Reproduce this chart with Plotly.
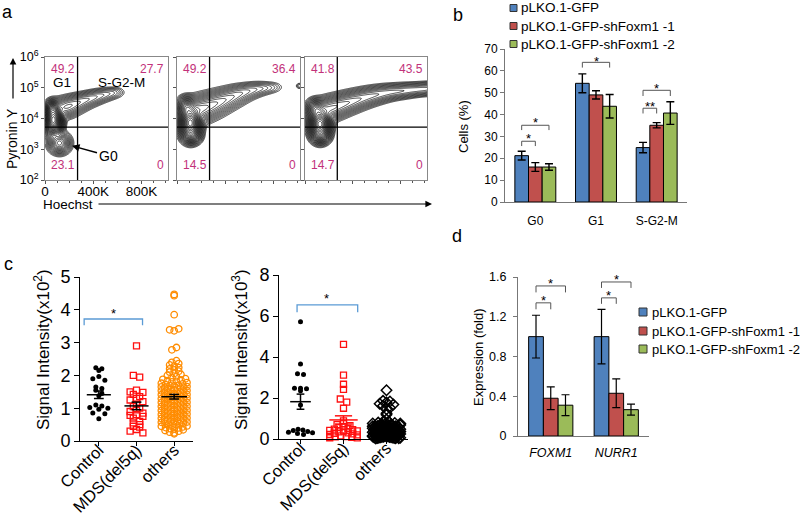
import numpy as np
import plotly.graph_objects as go

W, H = 800, 518
FONT = "Liberation Sans, Arial, sans-serif"

def X(px):
    return px / W

def Y(py):
    return 1 - py / H

def dx(l, r):
    return [l / W, r / W]

def dy(t, b):
    return [1 - b / H, 1 - t / H]

# ---------------- panel a : flow cytometry contours ----------------
a_quadrant_text = [["49.2", "27.7", "23.1", "0"],
                   ["49.2", "36.4", "14.5", "0"],
                   ["41.8", "43.5", "14.7", "0"]]
a_gate_x = 270      # Hoechst gate (K)
a_gate_y = 3.72     # Pyronin Y gate (log10)
a_x_ticks = [0, 400, 800]
a_x_ticktext = ["0", "400K", "800K"]
a_y_ticks = [2, 3, 4, 5, 6]
a_y_ticktext = ["10<sup>2</sup>", "10<sup>3</sup>", "10<sup>4</sup>", "10<sup>5</sup>", "10<sup>6</sup>"]

# population blobs: centre x (K), centre y (log10), spread x, spread y, weight
a1_cx = [70, 120, 60, 150, 200, 250, 300, 350, 400, 450, 500, 550, 585]
a1_cy = [3.95, 3.2, 4.3, 4.33, 4.4, 4.48, 4.55, 4.62, 4.68, 4.74, 4.79, 4.83, 4.86]
a1_sx = [32, 40, 25, 50, 50, 50, 50, 50, 50, 50, 50, 45, 40]
a1_sy = [0.21, 0.15, 0.12, 0.15, 0.14, 0.13, 0.12, 0.11, 0.105, 0.1, 0.095, 0.09, 0.085]
a1_w = [1.0, 0.17, 0.3, 0.06, 0.05, 0.042, 0.035, 0.03, 0.025, 0.02, 0.015, 0.01, 0.006]

a2_cx = [110, 80, 120, 150, 200, 250, 300, 350, 400, 450, 500, 550, 600, 650, 700, 750, 800, 1015]
a2_cy = [3.85, 4.35, 3.45, 4.25, 4.32, 4.38, 4.45, 4.53, 4.61, 4.69, 4.77, 4.84, 4.9, 4.95, 4.98,
         5.0, 5.02, 5.06]
a2_sx = [38, 35, 35, 50, 50, 50, 50, 50, 50, 50, 50, 50, 50, 50, 50, 50, 45, 15]
a2_sy = [0.22, 0.15, 0.12, 0.19, 0.19, 0.185, 0.18, 0.17, 0.16, 0.15, 0.14, 0.125, 0.115, 0.11,
         0.1, 0.095, 0.09, 0.05]
a2_w = [1.0, 0.3, 0.2, 0.09, 0.078, 0.066, 0.06, 0.054, 0.045, 0.039, 0.033, 0.027, 0.021, 0.016,
        0.012, 0.008, 0.004, 0.008]

a3_cx = [125, 90, 130, 170, 220, 270, 320, 370, 420, 470, 520, 570, 620, 670, 720, 770, 820, 870,
         920, 970, 1020, 1070]
a3_cy = [3.82, 4.3, 3.45, 4.28, 4.34, 4.4, 4.47, 4.53, 4.59, 4.65, 4.7, 4.75, 4.79, 4.83, 4.86,
         4.88, 4.9, 4.92, 4.94, 4.95, 4.97, 4.98]
a3_sx = [38, 35, 35] + [50] * 19
a3_sy = [0.21, 0.14, 0.12, 0.17, 0.165, 0.16, 0.155, 0.15, 0.145, 0.14, 0.135, 0.13, 0.125, 0.12,
         0.115, 0.11, 0.11, 0.105, 0.1, 0.1, 0.1, 0.1]
a3_w = [1.0, 0.25, 0.2, 0.085, 0.072, 0.066, 0.06, 0.054, 0.048, 0.042, 0.039, 0.036, 0.033, 0.03,
        0.028, 0.027, 0.025, 0.024, 0.023, 0.022, 0.022, 0.022]

# ---------------- panel b ----------------
b_cats = ["G0", "G1", "S-G2-M"]
b_gfp = [21.2, 54.3, 24.9]
b_gfp_err = [2.0, 4.3, 2.4]
b_sh1 = [16.0, 49.0, 35.1]
b_sh1_err = [2.0, 1.9, 1.2]
b_sh2 = [16.0, 43.8, 40.7]
b_sh2_err = [1.5, 5.4, 5.2]
# brackets: group, bar a, bar b, line y, end y, label, star y
b_sig = [(0, 0, 1, 27.8, 25.6, "*", 30.0),
         (0, 0, 2, 35.1, 32.9, "*", 37.6),
         (1, 0, 2, 63.9, 61.5, "*", 65.6),
         (2, 0, 1, 42.9, 40.5, "**", 44.8),
         (2, 0, 2, 51.1, 48.5, "*", 53.0)]

series_names = ["pLKO.1-GFP", "pLKO.1-GFP-shFoxm1 -1", "pLKO.1-GFP-shFoxm1 -2"]
series_colors = ["#4F81BD", "#C0504D", "#9BBB59"]

# ---------------- panel c ----------------
c_cats = ["Control", "MDS(del5q)", "others"]
c1_control = [2.23, 2.2, 2.15, 1.97, 1.9, 1.85, 1.65, 1.6, 1.55, 1.45, 1.38, 1.1, 1.07,
              1.02, 1.0, 0.97, 0.85, 0.83, 0.68]
c1_mds = [2.9, 2.0, 1.95, 1.55, 1.5, 1.48, 1.42, 1.35, 1.3, 1.25, 1.2, 1.12, 1.05, 1.0,
          0.95, 0.9, 0.85, 0.8, 0.78, 0.75, 0.7, 0.6, 0.55, 0.5, 0.45, 0.42, 0.35, 0.3, 0.25]
c1_others = [0.22, 0.25, 0.27, 0.3, 0.32, 0.34, 0.36, 0.38, 0.4, 0.41, 0.43, 0.45, 0.46, 0.48,
             0.5, 0.51, 0.53, 0.54, 0.55, 0.57, 0.58, 0.6, 0.61, 0.62, 0.64, 0.65, 0.66, 0.68,
             0.69, 0.7, 0.72, 0.73, 0.74, 0.76, 0.77, 0.78, 0.8, 0.81, 0.82, 0.84, 0.85, 0.86,
             0.88, 0.89, 0.9, 0.92, 0.93, 0.94, 0.96, 0.97, 0.98, 1.0, 1.01, 1.02, 1.04, 1.05,
             1.06, 1.08, 1.09, 1.1, 1.12, 1.13, 1.14, 1.16, 1.17, 1.18, 1.2, 1.21, 1.22, 1.24,
             1.25, 1.26, 1.28, 1.29, 1.3, 1.32, 1.33, 1.34, 1.36, 1.37, 1.38, 1.4, 1.41, 1.42,
             1.44, 1.45, 1.46, 1.48, 1.49, 1.5, 1.52, 1.53, 1.54, 1.56, 1.57, 1.58, 1.6, 1.61,
             1.62, 1.64, 1.65, 1.66, 1.68, 1.69, 1.7, 1.72, 1.74, 1.76, 1.78, 1.8, 1.82, 1.84,
             1.86, 1.88, 1.9, 1.93, 1.96, 2.0, 2.03, 2.06, 2.1, 2.13, 2.17, 2.2, 2.24, 2.28,
             2.32, 2.36, 2.4, 2.45, 2.78, 2.85, 3.36, 3.39, 3.42, 3.85, 4.43, 4.47]
c1_mean = [1.41, 1.07, 1.35]
c1_sem = [0.115, 0.115, 0.07]

c2_control = [5.72, 3.66, 3.18, 3.15, 2.48, 2.47, 2.45, 2.35, 1.66, 0.47, 0.44, 0.42, 0.36,
              0.33, 0.3, 0.27, 0.22]
c2_mds = [4.62, 3.12, 2.67, 2.42, 1.95, 1.8, 1.5, 0.88, 0.75, 0.7, 0.65, 0.6, 0.55, 0.5, 0.48,
          0.45, 0.42, 0.4, 0.38, 0.35, 0.3, 0.28, 0.25, 0.22, 0.2, 0.15, 0.12, 0.1, 0.08, 0.06, 0.05]
c2_others = [2.38, 1.86, 1.83, 1.78, 1.72, 1.68, 1.62, 1.52, 1.45, 1.25, 1.18, 0.95, 0.88, 0.82,
             0.8, 0.78, 0.76, 0.75, 0.72, 0.7, 0.7, 0.68, 0.66, 0.65, 0.63, 0.62, 0.6, 0.6, 0.58,
             0.57, 0.55, 0.55, 0.53, 0.52, 0.5, 0.5, 0.49, 0.48, 0.47, 0.46, 0.45, 0.45, 0.44,
             0.43, 0.42, 0.41, 0.4, 0.4, 0.39, 0.38, 0.37, 0.36, 0.35, 0.35, 0.34, 0.33, 0.32,
             0.31, 0.3, 0.3, 0.29, 0.28, 0.27, 0.26, 0.25, 0.25, 0.24, 0.23, 0.22, 0.21, 0.2,
             0.2, 0.19, 0.18, 0.17, 0.16, 0.15, 0.15, 0.14, 0.13, 0.12, 0.11, 0.1, 0.1, 0.09,
             0.08, 0.07, 0.06, 0.05, 0.05, 0.04, 0.03, 0.62, 0.58, 0.52, 0.44, 0.38, 0.33, 0.27,
             0.21, 0.16, 0.11, 0.07, 0.04, 0.68, 0.48, 0.36, 0.24, 0.12, 0.06]
c2_mean = [1.82, 0.93, 0.38]
c2_sem = [0.37, 0.2, 0.03]

# ---------------- panel d ----------------
d_genes = ["<i>FOXM1</i>", "<i>NURR1</i>"]
d_gfp = [1.0, 1.0]
d_gfp_err = [0.215, 0.275]
d_sh1 = [0.38, 0.43]
d_sh1_err = [0.115, 0.145]
d_sh2 = [0.31, 0.265]
d_sh2_err = [0.105, 0.055]
d_sig = [(0, 0, 1, 1.34, 1.275, "*", 1.39),
         (0, 0, 2, 1.51, 1.445, "*", 1.56),
         (1, 0, 1, 1.39, 1.33, "*", 1.435),
         (1, 0, 2, 1.55, 1.49, "*", 1.60)]

fig = go.Figure()
shapes = []
ann = []

# ---------- panel a contours ----------
gx = np.arange(0, 1021, 4.0)
gy = np.arange(2.0, 6.0001, 0.015)
GX, GY = np.meshgrid(gx, gy)

def dens(cx, cy, sx, sy, w):
    Z = np.zeros_like(GX)
    for a, b, s, t, k in zip(cx, cy, sx, sy, w):
        Z += k * np.exp(-0.5 * ((GX - a) / s) ** 2 - 0.5 * ((GY - b) / t) ** 2)
    Z = Z / Z.max()
    return Z ** 0.25

a_sets = [(a1_cx, a1_cy, a1_sx, a1_sy, a1_w),
          (a2_cx, a2_cy, a2_sx, a2_sy, a2_w),
          (a3_cx, a3_cy, a3_sx, a3_sy, a3_w)]
a_dom = [(45, 168), (177, 300), (305, 427)]
for i, params in enumerate(a_sets):
    sfx = "" if i == 0 else str(i + 1)
    fig.add_trace(go.Contour(
        x=gx, y=gy, z=dens(*params), xaxis="x" + sfx, yaxis="y" + sfx,
        contours=dict(start=0.21, end=0.98, size=0.032, coloring="lines"),
        colorscale=[[0, "black"], [1, "black"]], showscale=False,
        line=dict(width=0.75), hoverinfo="skip"))
    # gates
    shapes.append(dict(type="line", xref="x" + sfx, yref="y%s domain" % sfx,
                       x0=a_gate_x, x1=a_gate_x, y0=0, y1=1, line=dict(color="black", width=1.3)))
    shapes.append(dict(type="line", xref="x%s domain" % sfx, yref="y" + sfx,
                       x0=0, x1=1, y0=a_gate_y, y1=a_gate_y, line=dict(color="black", width=1.3)))
    q = a_quadrant_text[i]
    for txt_, xx, yy, xa in [(q[0], 0.03, 0.9, "left"), (q[1], 0.98, 0.9, "right"),
                             (q[2], 0.03, 0.12, "left"), (q[3], 0.98, 0.12, "right")]:
        ann.append(dict(text=txt_, xref="x%s domain" % sfx, yref="y%s domain" % sfx,
                        x=xx, y=yy, xanchor=xa, yanchor="middle", showarrow=False,
                        font=dict(size=12, color="#C2317A", family=FONT)))

# ---------- panel b bars ----------
gap = 0.325
bw = (1 - gap) / 3
b_vals = [(b_gfp, b_gfp_err), (b_sh1, b_sh1_err), (b_sh2, b_sh2_err)]
for j, (v, e) in enumerate(b_vals):
    fig.add_trace(go.Bar(x=list(range(len(b_cats))), y=v, xaxis="x4", yaxis="y4",
                         marker=dict(color=series_colors[j], line=dict(color="black", width=1)),
                         error_y=dict(type="data", array=e, color="black", thickness=1.4, width=4),
                         name=series_names[j], showlegend=False, hoverinfo="skip"))
for g, j0, j1, yl, ye, lab, ys in b_sig:
    x0 = g + (j0 - 1) * bw
    x1 = g + (j1 - 1) * bw
    shapes.append(dict(type="path", xref="x4", yref="y4",
                       path="M %f,%f L %f,%f L %f,%f L %f,%f" % (x0, ye, x0, yl, x1, yl, x1, ye),
                       line=dict(color="#555", width=1)))
    ann.append(dict(text=lab, xref="x4", yref="y4", x=(x0 + x1) / 2, y=ys - 1.1,
                    showarrow=False, yanchor="middle", font=dict(size=13, color="black", family=FONT)))

# ---------- panel d bars ----------
d_vals = [(d_gfp, d_gfp_err), (d_sh1, d_sh1_err), (d_sh2, d_sh2_err)]
for j, (v, e) in enumerate(d_vals):
    fig.add_trace(go.Bar(x=list(range(len(d_genes))), y=v, xaxis="x7", yaxis="y7",
                         marker=dict(color=series_colors[j], line=dict(color="black", width=1)),
                         error_y=dict(type="data", array=e, color="black", thickness=1.2, width=4),
                         name=series_names[j], showlegend=False, hoverinfo="skip"))
for g, j0, j1, yl, ye, lab, ys in d_sig:
    x0 = g + (j0 - 1) * bw
    x1 = g + (j1 - 1) * bw
    shapes.append(dict(type="path", xref="x7", yref="y7",
                       path="M %f,%f L %f,%f L %f,%f L %f,%f" % (x0, ye, x0, yl, x1, yl, x1, ye),
                       line=dict(color="#555", width=1)))
    ann.append(dict(text=lab, xref="x7", yref="y7", x=(x0 + x1) / 2, y=ys - 0.025,
                    showarrow=False, yanchor="middle", font=dict(size=13, color="black", family=FONT)))

# ---------- panel c scatter ----------
def swarm(vals, center, h, d, maxw):
    vals = np.asarray(vals, float)
    xs = np.zeros_like(vals)
    bins = np.floor(vals / h).astype(int)
    for b in np.unique(bins):
        idx = np.where(bins == b)[0]
        n = len(idx)
        step = d if n <= 1 else min(d, 2 * maxw / (n - 1))
        offs = sorted([(k - (n - 1) / 2) * step for k in range(n)], key=lambda o: (abs(o), o))
        for o, i in zip(offs, idx):
            xs[i] = center + o
    return xs

def mean_sem_trace(center, m, s, half, cap, color, xa, ya):
    xs = [center - half, center + half, None, center - cap, center + cap, None,
          center - cap, center + cap, None, center, center]
    ys = [m, m, None, m + s, m + s, None, m - s, m - s, None, m - s, m + s]
    return go.Scatter(x=xs, y=ys, xaxis=xa, yaxis=ya, mode="lines",
                      line=dict(color=color, width=1.5), hoverinfo="skip", showlegend=False)

# left
fig.add_trace(go.Scatter(x=swarm(c1_control, 0, 0.2, 0.16, 0.3), y=c1_control, xaxis="x5", yaxis="y5",
                         mode="markers", marker=dict(symbol="circle", size=5, color="black"),
                         cliponaxis=False, hoverinfo="skip", showlegend=False))
fig.add_trace(go.Scatter(x=swarm(c1_mds, 1, 0.12, 0.17, 0.32), y=c1_mds, xaxis="x5", yaxis="y5",
                         mode="markers", marker=dict(symbol="square-open", size=6, color="#FF1010",
                                                     line=dict(width=1.3)),
                         cliponaxis=False, hoverinfo="skip", showlegend=False))
fig.add_trace(go.Scatter(x=swarm(c1_others, 2, 0.12, 0.12, 0.34), y=c1_others, xaxis="x5", yaxis="y5",
                         mode="markers", marker=dict(symbol="circle-open", size=6.5, color="#FF8C00",
                                                     line=dict(width=1.3)),
                         cliponaxis=False, hoverinfo="skip", showlegend=False))
c1_half = [0.32, 0.32, 0.34]
c1_cap = [0.13, 0.13, 0.13]
for k in range(3):
    fig.add_trace(mean_sem_trace(k, c1_mean[k], c1_sem[k], c1_half[k], c1_cap[k], "black", "x5", "y5"))

# right
fig.add_trace(go.Scatter(x=swarm(c2_control, 0, 0.3, 0.14, 0.28), y=c2_control, xaxis="x6", yaxis="y6",
                         mode="markers", marker=dict(symbol="circle", size=5, color="black"),
                         cliponaxis=False, hoverinfo="skip", showlegend=False))
fig.add_trace(go.Scatter(x=swarm(c2_mds, 1, 0.2, 0.15, 0.32), y=c2_mds, xaxis="x6", yaxis="y6",
                         mode="markers", marker=dict(symbol="square-open", size=6, color="#FF1010",
                                                     line=dict(width=1.3)),
                         cliponaxis=False, hoverinfo="skip", showlegend=False))
fig.add_trace(go.Scatter(x=swarm(c2_others, 2, 0.15, 0.16, 0.32), y=c2_others, xaxis="x6", yaxis="y6",
                         mode="markers", marker=dict(symbol="diamond-open", size=8, color="black",
                                                     line=dict(width=1.5)),
                         cliponaxis=False, hoverinfo="skip", showlegend=False))
c2_half = [0.24, 0.33, 0.3]
c2_cap = [0.09, 0.2, 0.1]
c2_col = ["black", "#FF1010", "black"]
for k in range(3):
    fig.add_trace(mean_sem_trace(k, c2_mean[k], c2_sem[k], c2_half[k], c2_cap[k], c2_col[k], "x6", "y6"))

# c brackets
shapes.append(dict(type="path", xref="x5", yref="y5",
                   path="M -0.39,3.53 L -0.39,3.72 L 1.16,3.72 L 1.16,3.53",
                   line=dict(color="#5B9BD5", width=1.3)))
ann.append(dict(text="*", xref="x5", yref="y5", x=0.39, y=3.98 - 0.08, showarrow=False,
                font=dict(size=13, color="black", family=FONT)))
shapes.append(dict(type="path", xref="x6", yref="y6",
                   path="M -0.08,6.18 L -0.08,6.54 L 1.33,6.54 L 1.33,6.18",
                   line=dict(color="#5B9BD5", width=1.3)))
ann.append(dict(text="*", xref="x6", yref="y6", x=0.6, y=6.98 - 0.12, showarrow=False,
                font=dict(size=13, color="black", family=FONT)))

# ---------- manual legends ----------
def legend(x_sq, x_txt, rows, size, fsize):
    for j, yc in enumerate(rows):
        shapes.append(dict(type="rect", xref="paper", yref="paper",
                           x0=X(x_sq), x1=X(x_sq + size), y0=Y(yc + size / 2), y1=Y(yc - size / 2),
                           fillcolor=series_colors[j], line=dict(color="#333", width=1)))
        ann.append(dict(text=series_names[j], xref="paper", yref="paper", x=X(x_txt), y=Y(yc),
                        xanchor="left", yanchor="middle", showarrow=False,
                        font=dict(size=fsize, color="black", family=FONT)))

legend(510, 519, [8, 26, 44], 7, 13.5)
legend(639, 650, [312, 331, 349], 8, 13)

# ---------- texts ----------
def txt(s, px, py, size, xa="center", ya="middle", angle=0, color="black"):
    ann.append(dict(text=s, xref="paper", yref="paper", x=X(px), y=Y(py), xanchor=xa, yanchor=ya,
                    textangle=angle, showarrow=False, font=dict(size=size, color=color, family=FONT)))

txt("a", 7, 12, 18)
txt("b", 458, 15, 18)
txt("c", 8, 264, 18)
txt("d", 457, 236, 18)
txt("G1", 62, 82, 13.5)
txt("S-G2-M", 121, 82, 13.5)
txt("Pyronin Y", 12, 139, 14, angle=-90)
txt("Hoechst", 68, 204, 13.5)
txt("Cells (%)", 463, 127, 13, angle=-90)
txt("Signal Intensity(x10<sup>2</sup>)", 42, 350, 17, angle=-90)
txt("Signal Intensity(x10<sup>3</sup>)", 240, 350, 17, angle=-90)
txt("Expression (fold)", 478, 357, 13, angle=-90)

# arrows
ann.append(dict(text="", xref="paper", yref="paper", x=X(432), y=Y(204), ax=-335, ay=0,
                showarrow=True, arrowhead=2, arrowsize=1.1, arrowwidth=1.2, arrowcolor="black"))
ann.append(dict(text="", xref="paper", yref="paper", x=X(13), y=Y(58), ax=0, ay=42,
                showarrow=True, arrowhead=2, arrowsize=1.1, arrowwidth=1.2, arrowcolor="black"))
ann.append(dict(text="G0", xref="x", yref="y", x=224, y=3.11, ax=36, ay=10,
                showarrow=True, arrowhead=2, arrowsize=1, arrowwidth=1.5, arrowcolor="black",
                font=dict(size=14, color="black", family=FONT)))

# ---------- axes ----------
layout = dict(width=W, height=H, margin=dict(l=0, r=0, t=0, b=0, pad=0, autoexpand=False),
              paper_bgcolor="white", plot_bgcolor="white", showlegend=False,
              barmode="group", bargap=gap, bargroupgap=0,
              font=dict(family=FONT, color="black"))

for i, (l, r) in enumerate(a_dom):
    sfx = "" if i == 0 else str(i + 1)
    layout["xaxis" + sfx] = dict(domain=dx(l, r), range=[0, 1020], anchor="y" + sfx,
                                  tickvals=a_x_ticks, ticktext=a_x_ticktext, showticklabels=(i == 0),
                                  ticks="outside", ticklen=3, tickcolor="#555", showline=True,
                                  minor=dict(dtick=100, tick0=0, ticks="outside", ticklen=2, tickcolor="#555"),
                                  linecolor="#888", mirror=True, showgrid=False, zeroline=False,
                                  tickfont=dict(size=13.5), fixedrange=True, automargin=False,
                                  ticklabelstandoff=-4)
    layout["yaxis" + sfx] = dict(domain=dy(57, 180), range=[2, 6], anchor="x" + sfx,
                                  tickvals=a_y_ticks, ticktext=a_y_ticktext,
                                  showticklabels=(i == 0),
                                  ticks="outside", ticklen=3, tickcolor="#555", showline=True,
                                  linecolor="#888", mirror=True, showgrid=False, zeroline=False,
                                  tickfont=dict(size=12.5), fixedrange=True, automargin=False)

layout["xaxis4"] = dict(domain=dx(505, 687), range=[-0.5, 2.5], anchor="y4",
                        tickvals=[0, 1, 2], ticktext=b_cats, ticks="", showline=True,
                        linecolor="#777", showgrid=False, zeroline=False, tickfont=dict(size=12),
                        ticklabelstandoff=8, automargin=False)
layout["yaxis4"] = dict(domain=dy(49, 202), range=[0, 70], anchor="x4", dtick=10,
                        ticks="outside", ticklen=4, tickcolor="#777", showline=True,
                        linecolor="#777", showgrid=False, zeroline=False, tickfont=dict(size=12),
                        automargin=False)

layout["xaxis5"] = dict(domain=dx(80, 193), range=[-0.5, 2.5], anchor="y5",
                        tickvals=[0, 1, 2], ticktext=c_cats, tickangle=-45, ticks="outside",
                        ticklen=4, tickcolor="black", showline=True, linecolor="black",
                        showgrid=False, zeroline=False, tickfont=dict(size=16.5), automargin=False,
                        ticklabelstandoff=-12)
layout["yaxis5"] = dict(domain=dy(277, 441), range=[0, 5], anchor="x5", dtick=1,
                        ticks="outside", ticklen=5, tickcolor="black", showline=True,
                        linecolor="black", showgrid=False, zeroline=False, tickfont=dict(size=18),
                        automargin=False)
layout["xaxis6"] = dict(domain=dx(279, 408), range=[-0.5, 2.5], anchor="y6",
                        tickvals=[0, 1, 2], ticktext=c_cats, tickangle=-45, ticks="outside",
                        ticklen=4, tickcolor="black", showline=True, linecolor="black",
                        showgrid=False, zeroline=False, tickfont=dict(size=16.5), automargin=False,
                        ticklabelstandoff=-12)
layout["yaxis6"] = dict(domain=dy(275, 439), range=[0, 8], anchor="x6", dtick=2,
                        ticks="outside", ticklen=5, tickcolor="black", showline=True,
                        linecolor="black", showgrid=False, zeroline=False, tickfont=dict(size=18),
                        automargin=False)

layout["xaxis7"] = dict(domain=dx(518, 649), range=[-0.5, 1.5], anchor="y7",
                        tickvals=[0, 1], ticktext=d_genes, ticks="", showline=True,
                        linecolor="#777", showgrid=False, zeroline=False, tickfont=dict(size=12.5),
                        ticklabelstandoff=5, automargin=False)
layout["yaxis7"] = dict(domain=dy(277, 436), range=[0, 1.6], anchor="x7",
                        tickvals=[0, 0.4, 0.8, 1.2, 1.6], ticktext=["0", "0.4", "0.8", "1.2", "1.6"],
                        ticks="outside", ticklen=4, tickcolor="#777", showline=True,
                        linecolor="#777", showgrid=False, zeroline=False, tickfont=dict(size=12.5),
                        ticklabelstandoff=4, automargin=False)

layout["shapes"] = shapes
layout["annotations"] = ann
fig.update_layout(**layout)
fig.write_html("out.html", config={"displayModeBar": False},
               post_script="document.body.style.margin='0px';document.body.style.overflow='hidden';")
